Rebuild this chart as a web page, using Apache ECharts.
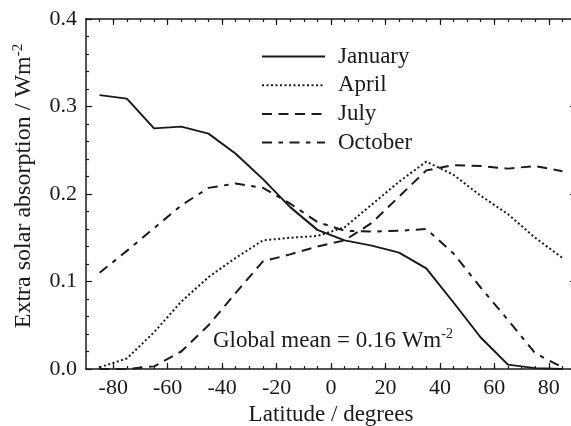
<!DOCTYPE html>
<html>
<head>
<meta charset="utf-8">
<script src="https://cdn.jsdelivr.net/npm/echarts@6/dist/echarts.min.js"></script>
<style>
  html, body { margin: 0; padding: 0; background: #fff; }
  #chart { width: 571px; height: 426px; }
</style>
</head>
<body>
<div id="chart"></div>
<script>
// latitude of each sample (degrees)
var latitudes = [-85, -75, -65, -55, -45, -35, -25, -15, -5, 5, 15, 25, 35, 45, 55, 65, 75, 85];
// extra solar absorption, W m-2
var january = [0.313, 0.309, 0.275, 0.277, 0.269, 0.246, 0.217, 0.185, 0.159, 0.147, 0.141, 0.133, 0.115, 0.076, 0.036, 0.005, 0.001, 0.000];
var april   = [0.002, 0.012, 0.042, 0.077, 0.105, 0.127, 0.147, 0.150, 0.152, 0.162, 0.188, 0.214, 0.237, 0.222, 0.198, 0.177, 0.150, 0.127];
var july    = [0.000, 0.000, 0.003, 0.020, 0.050, 0.087, 0.123, 0.131, 0.140, 0.147, 0.167, 0.197, 0.227, 0.233, 0.232, 0.229, 0.232, 0.226];
var october = [0.110, 0.135, 0.161, 0.187, 0.207, 0.212, 0.207, 0.189, 0.168, 0.158, 0.157, 0.158, 0.160, 0.132, 0.093, 0.056, 0.018, 0.002];

var monthNames = ['January', 'April', 'July', 'October'];
var xMajorTicks = [-80, -60, -40, -20, 0, 20, 40, 60, 80];
var xMinorTicks = [-85, -80, -75, -70, -65, -60, -55, -50, -45, -40, -35, -30, -25, -20, -15, -10, -5,
                   0, 5, 10, 15, 20, 25, 30, 35, 40, 45, 50, 55, 60, 65, 70, 75, 80, 85];

var ink = '#1a1a1a';
var serif = '"Liberation Serif", "Times New Roman", serif';

function pairs(ys) {
  return latitudes.map(function (x, i) { return [x, ys[i]]; });
}

function xAx(pos, ticks, len, withLine, withLabel) {
  return {
    type: 'value', position: pos, min: -90, max: 90,
    axisLine: { show: withLine, onZero: false, lineStyle: { color: ink, width: 1.5 } },
    axisTick: { show: true, inside: true, length: len, customValues: ticks, lineStyle: { color: ink, width: 1.2 } },
    axisLabel: withLabel ? { show: true, customValues: xMajorTicks, color: ink, fontFamily: serif, fontSize: 22, margin: 8 } : { show: false },
    splitLine: { show: false }
  };
}

var chart = echarts.init(document.getElementById('chart'));

var xAxes = [
  xAx('bottom', xMajorTicks, 6, true, true),
  xAx('bottom', xMinorTicks, 3, false, false),
  xAx('top', xMajorTicks, 6, true, false),
  xAx('top', xMinorTicks, 3, false, false)
];
xAxes[0].name = 'Latitude / degrees';
xAxes[0].nameLocation = 'middle';
xAxes[0].nameGap = 32;
xAxes[0].nameTextStyle = { color: ink, fontFamily: serif, fontSize: 23 };

function yAx(pos, withLabel) {
  return {
    type: 'value', position: pos, min: 0, max: 0.4, interval: 0.1,
    axisLine: { show: true, onZero: false, lineStyle: { color: ink, width: 1.5 } },
    axisTick: { show: true, inside: true, length: 6, lineStyle: { color: ink, width: 1.2 } },
    minorTick: { show: true, splitNumber: 5, length: 3, lineStyle: { color: ink, width: 1.2 } },
    axisLabel: withLabel ? {
      show: true, color: ink, fontFamily: serif, fontSize: 22, margin: 9,
      formatter: function (v) { return v.toFixed(1); }
    } : { show: false },
    splitLine: { show: false }
  };
}

var yLeft = yAx('left', true);
yLeft.name = '{a|Extra solar absorption / Wm}{s|-2}';
yLeft.nameLocation = 'middle';
yLeft.nameGap = 50;
yLeft.nameTextStyle = {
  color: ink, fontFamily: serif, fontSize: 24, padding: [0, 0, 0, 16],
  rich: {
    a: { color: ink, fontFamily: serif, fontSize: 24, lineHeight: 25, verticalAlign: 'bottom' },
    s: { color: ink, fontFamily: serif, fontSize: 15, lineHeight: 25, verticalAlign: 'top' }
  }
};

var styles = [
  { width: 2, type: 'solid' },
  { width: 2, type: [2, 2.5] },
  { width: 2, type: [10, 6.5] },
  { width: 2, type: [10, 6.5, 4.5, 6.5] }
];
var values = [january, april, july, october];

var series = monthNames.map(function (n, i) {
  return {
    name: n, type: 'line', xAxisIndex: 0, yAxisIndex: 0,
    symbol: 'none', showSymbol: false,
    lineStyle: { color: ink, width: styles[i].width, type: styles[i].type },
    itemStyle: { color: ink },
    data: pairs(values[i])
  };
});

chart.setOption({
  animation: false,
  backgroundColor: '#fff',
  grid: { left: 86, top: 19, width: 490, height: 350, containLabel: false, outerBoundsMode: 'none' },
  legend: {
    data: monthNames, orient: 'vertical', left: 261, top: 45, padding: 0,
    itemWidth: 63, itemHeight: 14, itemGap: 5.7,
    itemStyle: { opacity: 0, borderWidth: 0 },
    textStyle: { color: ink, fontFamily: serif, fontSize: 23, lineHeight: 22, padding: [0, 0, 0, 8] }
  },
  xAxis: xAxes,
  yAxis: [yLeft, yAx('right', false)],
  graphic: [{
    type: 'text', left: 213, top: 327,
    style: {
      text: '{a|Global mean = 0.16 Wm}{s|-2}',
      fill: ink,
      rich: {
        a: { fill: ink, fontFamily: serif, fontSize: 23, lineHeight: 25, verticalAlign: 'bottom' },
        s: { fill: ink, fontFamily: serif, fontSize: 14, lineHeight: 25, verticalAlign: 'top' }
      }
    }
  }],
  series: series
});
</script>
</body>
</html>
